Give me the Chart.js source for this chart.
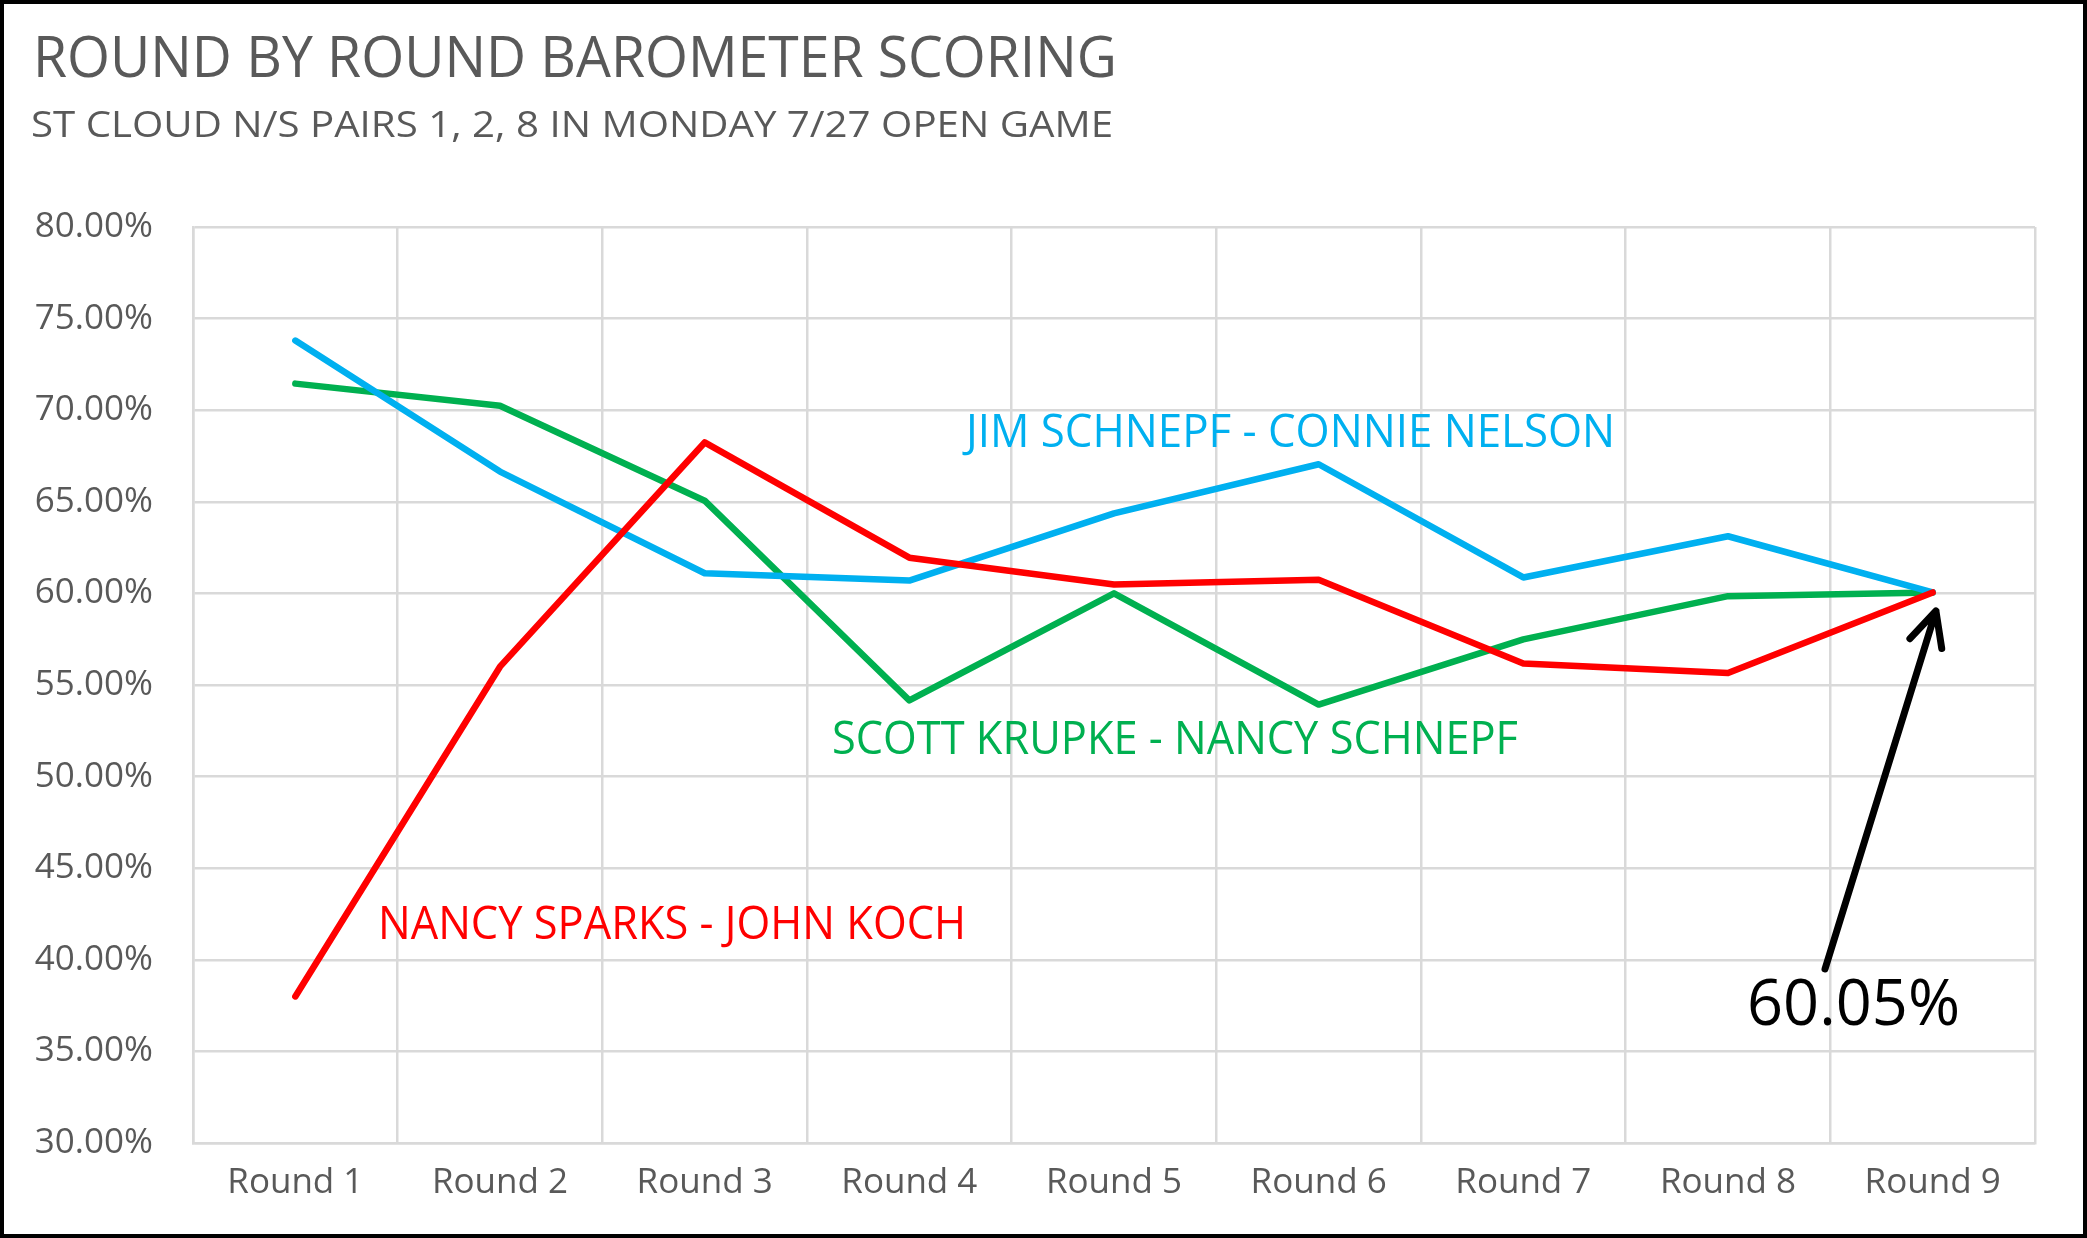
<!DOCTYPE html>
<html>
<head>
<meta charset="utf-8">
<script src="https://cdn.jsdelivr.net/npm/chart.js@4/dist/chart.umd.min.js"></script>
<style>
  html, body { margin: 0; padding: 0; background: #fff; overflow: hidden; }
  #wrap { width: 2087px; height: 1238px; position: relative; }
</style>
</head>
<body>
<div id="wrap"><canvas id="c"></canvas></div>
<script>
// ---- DATA ----
const categories = ['Round 1','Round 2','Round 3','Round 4','Round 5','Round 6','Round 7','Round 8','Round 9'];
const jimSchnepfConnieNelson = [73.8, 66.65, 61.1, 60.7, 64.37, 67.05, 60.87, 63.12, 60.05];
const scottKrupkeNancySchnepf = [71.45, 70.24, 65.06, 54.16, 60.0, 53.93, 57.49, 59.85, 60.05];
const nancySparksJohnKoch = [38.0, 56.0, 68.24, 61.95, 60.49, 60.75, 56.17, 55.65, 60.05];
const seriesNames = ['JIM SCHNEPF - CONNIE NELSON', 'SCOTT KRUPKE - NANCY SCHNEPF', 'NANCY SPARKS - JOHN KOCH'];
const yTicks = { min: 30, max: 80, step: 5 };
const finalLabel = '60.05%';

// ---- STYLE / ANNOTATION CONFIG ----
const FONT = "'Open Sans', 'Noto Sans', sans-serif";
const TEXT_GRAY = '#595959';
const GRID = '#D9D9D9';
const colors = { blue: '#00B0F0', green: '#00B050', red: '#FF0000' };

const titleCfg = { text: 'ROUND BY ROUND BAROMETER SCORING', x: 33, y: 77, width: 1084, size: 56, color: TEXT_GRAY };
const subtitleCfg = { text: 'ST CLOUD N/S PAIRS 1, 2, 8 IN MONDAY 7/27 OPEN GAME', x: 31, y: 137, width: 1082, size: 36, color: TEXT_GRAY };

const seriesLabelCfg = [
  { text: seriesNames[0], color: colors.blue,  x: 3.277, y: 67.99, width: 649, size: 46 },
  { text: seriesNames[1], color: colors.green, x: 2.622, y: 51.23, width: 686, size: 45 },
  { text: seriesNames[2], color: colors.red,   x: 0.404, y: 41.14, width: 588, size: 45 }
];
const finalLabelCfg = { text: finalLabel, x: 7.093, y: 36.44, width: 213, size: 64, color: '#000' };
const arrowCfg = { from: { x: 7.474, y: 39.5 }, to: { x: 8.016, y: 59.04 }, head: 38, angle: 26, width: 7, color: '#000' };

function fitText(ctx, t, x, y, width, size, color) {
  ctx.save();
  ctx.font = size + 'px ' + FONT;
  ctx.fillStyle = color;
  ctx.textBaseline = 'alphabetic';
  ctx.textAlign = 'left';
  const w = ctx.measureText(t).width;
  ctx.translate(x, y);
  ctx.scale(width / w, 1);
  ctx.fillText(t, 0, 0);
  ctx.restore();
}

const annotationPlugin = {
  id: 'annotations',
  afterDraw(chart) {
    const ctx = chart.ctx;
    const xs = chart.scales.x, ys = chart.scales.y;
    const px = v => xs.getPixelForDecimal((v + 0.5) / categories.length);
    const py = v => ys.getPixelForValue(v);

    fitText(ctx, titleCfg.text, titleCfg.x, titleCfg.y, titleCfg.width, titleCfg.size, titleCfg.color);
    fitText(ctx, subtitleCfg.text, subtitleCfg.x, subtitleCfg.y, subtitleCfg.width, subtitleCfg.size, subtitleCfg.color);

    seriesLabelCfg.forEach(l => fitText(ctx, l.text, px(l.x), py(l.y), l.width, l.size, l.color));
    fitText(ctx, finalLabelCfg.text, px(finalLabelCfg.x), py(finalLabelCfg.y), finalLabelCfg.width, finalLabelCfg.size, finalLabelCfg.color);

    // arrow
    const x1 = px(arrowCfg.from.x), y1 = py(arrowCfg.from.y);
    const x2 = px(arrowCfg.to.x), y2 = py(arrowCfg.to.y);
    const ang = Math.atan2(y1 - y2, x1 - x2);
    const a = arrowCfg.angle * Math.PI / 180;
    ctx.save();
    ctx.strokeStyle = arrowCfg.color;
    ctx.lineWidth = arrowCfg.width;
    ctx.lineCap = 'round';
    ctx.lineJoin = 'round';
    ctx.beginPath();
    ctx.moveTo(x1, y1);
    ctx.lineTo(x2, y2);
    ctx.moveTo(x2 + arrowCfg.head * Math.cos(ang + a), y2 + arrowCfg.head * Math.sin(ang + a));
    ctx.lineTo(x2, y2);
    ctx.lineTo(x2 + arrowCfg.head * Math.cos(ang - a), y2 + arrowCfg.head * Math.sin(ang - a));
    ctx.stroke();
    ctx.restore();

    // outer frame
    ctx.save();
    ctx.strokeStyle = '#000';
    ctx.lineWidth = 4;
    ctx.strokeRect(2, 2, chart.width - 4, chart.height - 4);
    ctx.restore();
  }
};

const lineStyle = { borderWidth: 6.5, pointRadius: 0, pointHoverRadius: 0, tension: 0, borderCapStyle: 'round', borderJoinStyle: 'round', fill: false };

new Chart(document.getElementById('c'), {
  type: 'line',
  data: {
    labels: categories,
    datasets: [
      Object.assign({ label: seriesNames[2], data: nancySparksJohnKoch, borderColor: colors.red, backgroundColor: colors.red }, lineStyle),
      Object.assign({ label: seriesNames[0], data: jimSchnepfConnieNelson, borderColor: colors.blue, backgroundColor: colors.blue }, lineStyle),
      Object.assign({ label: seriesNames[1], data: scottKrupkeNancySchnepf, borderColor: colors.green, backgroundColor: colors.green }, lineStyle)
    ]
  },
  options: {
    responsive: true,
    maintainAspectRatio: false,
    animation: false,
    devicePixelRatio: 1,
    layout: { padding: { top: 227, right: 52, left: 0, bottom: 0 } },
    plugins: { legend: { display: false }, title: { display: false }, tooltip: { enabled: false } },
    events: [],
    scales: {
      x: {
        type: 'category',
        offset: true,
        grid: { offset: true, color: GRID, lineWidth: 2.5, drawTicks: false },
        border: { display: true, color: GRID, width: 2.5 },
        ticks: { color: TEXT_GRAY, font: { family: FONT, size: 35 }, padding: 19, maxRotation: 0, autoSkip: false },
        afterFit(s) { s.height = 95; }
      },
      y: {
        min: yTicks.min, max: yTicks.max,
        grid: { color: GRID, lineWidth: 2.5, drawTicks: false },
        border: { display: true, color: GRID, width: 2.5 },
        ticks: { stepSize: yTicks.step, color: TEXT_GRAY, font: { family: FONT, size: 35 }, padding: 40,
                 callback: v => v.toFixed(2) + '%' },
        afterFit(s) { s.width = 193; }
      }
    }
  },
  plugins: [annotationPlugin]
});
</script>
</body>
</html>
